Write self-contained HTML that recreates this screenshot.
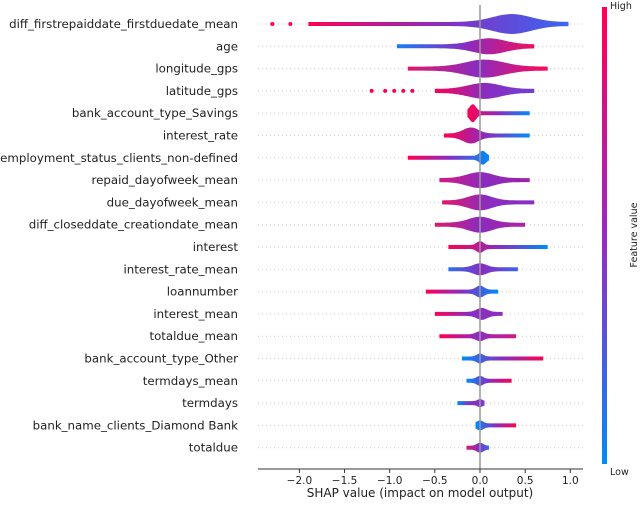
<!DOCTYPE html>
<html><head><meta charset="utf-8"><style>
body{margin:0;background:#fff}
svg text{font-family:"DejaVu Sans","Liberation Sans",sans-serif}
</style></head><body>
<svg id="c" width="640" height="501" viewBox="0 0 640 501" xmlns="http://www.w3.org/2000/svg">
<defs>
<linearGradient id="cb" x1="0" y1="0" x2="0" y2="1"><stop offset="0" stop-color="#ff0052"/><stop offset="0.5" stop-color="#9b27c8"/><stop offset="1" stop-color="#008bfb"/></linearGradient>
</defs>
<g id="plot"></g>
<line x1="258" y1="469" x2="583" y2="469" stroke="#333" stroke-width="1"/>
<g id="ticks"></g>
<text x="420" y="497" font-size="12" text-anchor="middle" fill="#222">SHAP value (impact on model output)</text>
<rect x="602" y="7" width="5" height="457" fill="url(#cb)"/>
<text x="610" y="9" font-size="9.5" fill="#222">High</text>
<text x="610" y="475" font-size="9.5" fill="#222">Low</text>
<text transform="translate(637,235) rotate(-90)" font-size="9.5" text-anchor="middle" fill="#222">Feature value</text>
</svg>
<script>
const features=["diff_firstrepaiddate_firstduedate_mean","age","longitude_gps","latitude_gps","bank_account_type_Savings","interest_rate","employment_status_clients_non-defined","repaid_dayofweek_mean","due_dayofweek_mean","diff_closeddate_creationdate_mean","interest","interest_rate_mean","loannumber","interest_mean","totaldue_mean","bank_account_type_Other","termdays_mean","termdays","bank_name_clients_Diamond Bank","totaldue"];
const minVals=[-1.9,-0.92,-0.8,-0.5,-0.14,-0.4,-0.8,-0.45,-0.42,-0.5,-0.35,-0.35,-0.6,-0.5,-0.45,-0.2,-0.15,-0.25,-0.05,-0.15];
const maxVals=[0.98,0.6,0.75,0.6,0.55,0.55,0.1,0.55,0.6,0.5,0.75,0.42,0.2,0.25,0.4,0.7,0.35,0.05,0.4,0.1];
const peakVals=[0.35,0.1,0.05,0.05,-0.08,-0.1,0.03,0.0,0.0,0.0,0.0,0.0,0.0,0.02,0.0,0.0,0.0,0.0,0.0,0.0];
const peakH=[10,8,9,8,9,8,7,8,8,8,6,6,6,6,5,5,5,4,5,5];
const spread=[0.3,0.25,0.3,0.25,0.05,0.12,0.05,0.2,0.18,0.18,0.05,0.1,0.06,0.08,0.06,0.05,0.05,0.04,0.05,0.05];
const leftColor=["#ff0052","#1a7cf5","#e0186a","#ff0052","#ff0052","#ff0052","#ff0052","#d41a80","#e0186a","#e0186a","#ff0052","#2a70ee","#ff0052","#ff0052","#ff0052","#008bfb","#008bfb","#008bfb","#008bfb","#e0186a"];
const rightColor=["#3a66f0","#ee1060","#ff0a56","#7040d0","#008bfb","#008bfb","#008bfb","#a020a8","#8a30c0","#b020a0","#008bfb","#3a66f0","#008bfb","#8a30c0","#d01a80","#ff0052","#ff0052","#7a3acb","#ff0052","#3a66f0"];
const outliers=[[-2.3,-2.1],[],[],[-1.2,-1.05,-0.95,-0.85,-0.75],[],[],[],[],[],[],[],[],[],[],[],[],[],[],[],[]];
const tickVals=[-2.0,-1.5,-1.0,-0.5,0.0,0.5,1.0];
const tickLabels=["\u22122.0","\u22121.5","\u22121.0","\u22120.5","0.0","0.5","1.0"];
const X=v=>480+v*90.3, Y=i=>24+i*22.3;
const NS="http://www.w3.org/2000/svg";
const svg=document.getElementById('c'),defs=svg.querySelector('defs'),plot=document.getElementById('plot'),tk=document.getElementById('ticks');
function mk(t,a,p){const e=document.createElementNS(NS,t);for(const k in a)e.setAttribute(k,a[k]);(p||plot).appendChild(e);return e;}
features.forEach((f,i)=>{
  const y=Y(i);
  const gl=mk('line',{x1:258,x2:583,y1:y,y2:y,stroke:'#ccc','stroke-dasharray':'1,3'});
  
  
  const lb=mk('text',{x:238,y:y+4,'font-size':'11.8','text-anchor':'end',fill:'#222'},svg);
  lb.textContent=f;
  
  
  const g=mk('linearGradient',{id:'g'+i,gradientUnits:'userSpaceOnUse',x1:X(minVals[i]),x2:X(maxVals[i]),y1:0,y2:0},defs);
  mk('stop',{offset:0,'stop-color':leftColor[i]},g);
  mk('stop',{offset:0.5,'stop-color':'#8a2cc0'},g);
  mk('stop',{offset:1,'stop-color':rightColor[i]},g);
  const n=60,top=[],bot=[];
  for(let k=0;k<=n;k++){const v=minVals[i]+(maxVals[i]-minVals[i])*k/n;
    const h=2+(peakH[i]-2)*Math.exp(-Math.pow((v-peakVals[i])/spread[i],2));
    top.push(X(v).toFixed(1)+','+(y-h).toFixed(1));bot.unshift(X(v).toFixed(1)+','+(y+h).toFixed(1));}
  const sh=mk('polygon',{points:top.concat(bot).join(' '),fill:'url(#g'+i+')'});
  
  
  outliers[i].forEach(v=>{const d=mk('circle',{cx:X(v),cy:y,r:2,fill:leftColor[i]});
    
    });
});
const zl=mk('line',{x1:480,x2:480,y1:5,y2:469,stroke:'#999','stroke-width':1.5});


tickVals.forEach((v,i)=>{
  mk('line',{x1:X(v),x2:X(v),y1:469,y2:473,stroke:'#333'},tk);
  const t=mk('text',{x:X(v),y:484,'font-size':'10.5','text-anchor':'middle',fill:'#222'},tk);
  t.textContent=tickLabels[i];
  
  
});
</script>
</body></html>
